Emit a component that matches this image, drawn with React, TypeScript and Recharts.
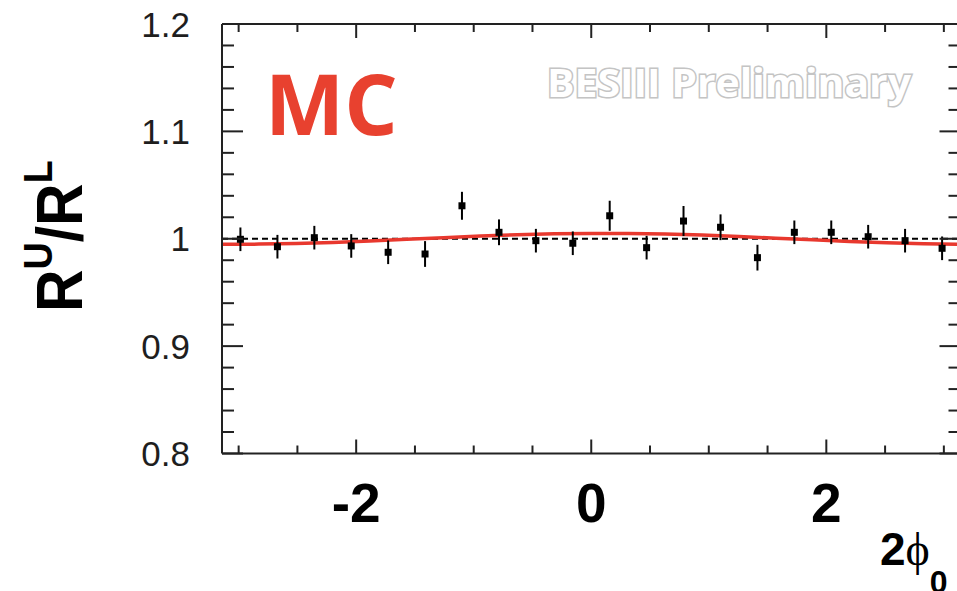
import React from 'react';
import { ComposedChart, XAxis, YAxis, Scatter, Line, ErrorBar, ReferenceLine } from 'recharts';

// bin centres in 2phi (20 bins over [-pi, pi])
const binCenters = [-2.985, -2.670, -2.356, -2.042, -1.728, -1.414, -1.100, -0.785, -0.471, -0.157,
  0.157, 0.471, 0.785, 1.100, 1.414, 1.728, 2.042, 2.356, 2.670, 2.985];
const ratioValues = [0.9995, 0.9926, 1.0010, 0.9933, 0.9874, 0.9858, 1.0307, 1.0060, 0.9982, 0.9958,
  1.0214, 0.9917, 1.0165, 1.0107, 0.9824, 1.0060, 1.0060, 1.0019, 0.9982, 0.9911];
const ratioErrors = [0.011, 0.011, 0.011, 0.011, 0.011, 0.012, 0.013, 0.012, 0.011, 0.011,
  0.014, 0.011, 0.014, 0.012, 0.012, 0.011, 0.011, 0.011, 0.011, 0.011];

// fitted curve (red)
const fitX = [-3.1416, -2.8274, -2.5133, -2.1991, -1.885, -1.5708, -1.2566, -0.9425, -0.6283, -0.3142, 0,
  0.3142, 0.6283, 0.9425, 1.2566, 1.5708, 1.885, 2.1991, 2.5133, 2.8274, 3.1416];
const fitY = [0.9948, 0.9950, 0.9956, 0.9966, 0.9980, 0.9995, 1.0010, 1.0025, 1.0037, 1.0046, 1.0050,
  1.0050, 1.0045, 1.0035, 1.0020, 1.0005, 0.9990, 0.9975, 0.9962, 0.9953, 0.9949];

const xTicks = [-3, -2.5, -2, -1.5, -1, -0.5, 0, 0.5, 1, 1.5, 2, 2.5, 3];
const xMajorTicks = [-2, 0, 2];
const xTickLabels = ['-2', '0', '2'];
const yTicks = [0.8, 0.82, 0.84, 0.86, 0.88, 0.9, 0.92, 0.94, 0.96, 0.98, 1, 1.02, 1.04, 1.06, 1.08,
  1.1, 1.12, 1.14, 1.16, 1.18, 1.2];
const yMajorTicks = [0.8, 0.9, 1, 1.1, 1.2];
const yTickLabels = ['0.8', '0.9', '1', '1.1', '1.2'];

const X_DOMAIN: [number, number] = [-3.1416, 3.1416];
const Y_DOMAIN: [number, number] = [0.8, 1.2];

const points = binCenters.map((x, i) => ({ x, y: ratioValues[i], err: ratioErrors[i] }));
const fitData = fitX.map((x, i) => ({ x, y: fitY[i] }));

const AX = '#222';
const SANS = '"Liberation Sans", Arial, Helvetica, sans-serif';

const isMajor = (list: number[], v: number) => list.some((m) => Math.abs(m - v) < 1e-6);

const BottomTick = (p: any) => {
  const { x, y, payload } = p;
  const v = payload.value;
  const idx = xMajorTicks.findIndex((m) => Math.abs(m - v) < 1e-6);
  const major = idx >= 0;
  return (
    <g>
      <line x1={x} x2={x} y1={y} y2={y - (major ? 14 : 8)} stroke={AX} strokeWidth={2} />
      {major && (
        <text x={x} y={y + 68.5} textAnchor="middle" fontFamily={SANS} fontWeight="bold" fontSize={55} fill="#000">
          {xTickLabels[idx]}
        </text>
      )}
    </g>
  );
};

const TopTick = (p: any) => {
  const { x, y, payload } = p;
  const major = isMajor(xMajorTicks, payload.value);
  return <line x1={x} x2={x} y1={y} y2={y + (major ? 14 : 8)} stroke={AX} strokeWidth={2} />;
};

const LeftTick = (p: any) => {
  const { x, y, payload } = p;
  const v = payload.value;
  const idx = yMajorTicks.findIndex((m) => Math.abs(m - v) < 1e-6);
  const major = idx >= 0;
  return (
    <g>
      <line x1={x} x2={x + (major ? 21 : 12)} y1={y} y2={y} stroke={AX} strokeWidth={2} />
      {major && (
        <text x={x - 32} y={y + 12.5} textAnchor="end" fontFamily={SANS} fontSize={35} fill="#1e1e1e">
          {yTickLabels[idx]}
        </text>
      )}
    </g>
  );
};

const RightTick = (p: any) => {
  const { x, y, payload } = p;
  const major = isMajor(yMajorTicks, payload.value);
  return <line x1={x} x2={x - (major ? 21 : 12)} y1={y} y2={y} stroke={AX} strokeWidth={2} />;
};

const SquareDot = (p: any) => {
  const { cx, cy } = p;
  if (cx == null || cy == null) return <g />;
  return <rect x={cx - 3.5} y={cy - 3.5} width={7} height={7} fill="#000" />;
};

export default function App() {
  return (
    <div style={{ position: 'absolute', left: 0, top: 0, width: 957, height: 591, overflow: 'hidden', background: '#fff' }}>
      <ComposedChart
        width={975}
        height={591}
        data={points}
        margin={{ top: 23, right: 13.5, bottom: 136.5, left: 221 }}
      >
        <XAxis
          xAxisId="b"
          dataKey="x"
          type="number"
          domain={X_DOMAIN}
          allowDataOverflow
          ticks={xTicks}
          interval={0}
          height={1}
          tickSize={0}
          tickMargin={0}
          tickLine={false}
          axisLine={{ stroke: AX, strokeWidth: 2 }}
          tick={<BottomTick />}
        />
        <XAxis
          xAxisId="t"
          orientation="top"
          dataKey="x"
          type="number"
          domain={X_DOMAIN}
          allowDataOverflow
          ticks={xTicks}
          interval={0}
          height={1}
          tickSize={0}
          tickMargin={0}
          tickLine={false}
          axisLine={{ stroke: AX, strokeWidth: 2 }}
          tick={<TopTick />}
        />
        <YAxis
          yAxisId="l"
          type="number"
          domain={Y_DOMAIN}
          allowDataOverflow
          ticks={yTicks}
          interval={0}
          width={1}
          tickSize={0}
          tickMargin={0}
          tickLine={false}
          axisLine={{ stroke: AX, strokeWidth: 2 }}
          tick={<LeftTick />}
        />
        <YAxis
          yAxisId="r"
          orientation="right"
          type="number"
          domain={Y_DOMAIN}
          allowDataOverflow
          ticks={yTicks}
          interval={0}
          width={1}
          tickSize={0}
          tickMargin={0}
          tickLine={false}
          axisLine={{ stroke: AX, strokeWidth: 2 }}
          tick={<RightTick />}
        />
        <ReferenceLine xAxisId="b" yAxisId="l" y={1} stroke="#000" strokeWidth={2} strokeDasharray="6 4" />
        <Line
          xAxisId="b"
          yAxisId="l"
          data={fitData}
          dataKey="y"
          type="linear"
          stroke="#E8382E"
          strokeWidth={3.5}
          dot={false}
          activeDot={false}
          isAnimationActive={false}
        />
        <Scatter
          xAxisId="b"
          yAxisId="l"
          data={points}
          dataKey="y"
          shape={<SquareDot />}
          isAnimationActive={false}
        >
          <ErrorBar dataKey="err" direction="y" width={0} stroke="#000" strokeWidth={2} isAnimationActive={false} />
        </Scatter>
      </ComposedChart>
      <svg width={957} height={591} style={{ position: 'absolute', left: 0, top: 0, pointerEvents: 'none' }}>
        <text x={265} y={135} fontFamily='"Open Sans", sans-serif' fontWeight="bold" fontSize={84} fill="#E8412F">
          MC
        </text>
        <text
          x={547}
          y={97}
          fontFamily='"Open Sans", sans-serif'
          fontWeight="bold"
          fontSize={40}
          fill="#fff"
          stroke="#c4c4c4"
          strokeWidth={3}
          paintOrder="stroke"
          textLength={364}
          lengthAdjust="spacingAndGlyphs"
        >
          BESIII Preliminary
        </text>
        <g transform="translate(82,312) rotate(-90) scale(0.92,1)">
          <text x={0} y={0} fontFamily={SANS} fontWeight="bold" fontSize={64} fill="#000">
            R
            <tspan fontSize={41} dy={-30}>U</tspan>
            <tspan dy={30}>/R</tspan>
            <tspan fontSize={41} dy={-30}>L</tspan>
          </text>
        </g>
        <text x={880} y={565} fontFamily={SANS} fontWeight="bold" fontSize={46} fill="#000">
          2
          <tspan fontFamily='"Liberation Serif", "DejaVu Serif", serif' fontWeight="normal">ϕ</tspan>
          <tspan fontSize={32} dy={28}>0</tspan>
        </text>
      </svg>
    </div>
  );
}
